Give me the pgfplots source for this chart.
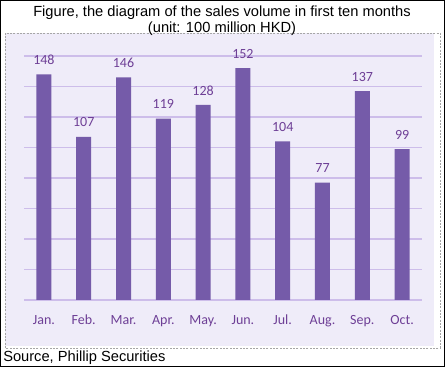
\documentclass[border=0pt]{standalone}
\usepackage{pgfplots}
\pgfplotsset{compat=1.18}
\usepackage{fontspec}
\setmainfont{Liberation Sans}
\newfontfamily\calfont{Carlito}
\newcommand\cl[1]{\mbox{\calfont\fontsize{10.5}{12}\selectfont #1}}
\definecolor{barc}{HTML}{755BA9}
\definecolor{txtc}{HTML}{6E3F96}
\definecolor{gridc}{HTML}{CDBDEA}
\definecolor{bgc}{HTML}{EFECF9}
\begin{document}
\begin{tikzpicture}
\useasboundingbox (0,0) rectangle (333.75pt,275.25pt);
\fill[bgc] (3.75pt,15.75pt) rectangle (325.5pt,250.5pt);
\draw[gray!70, dashed, line width=0.6pt, dash pattern=on 1.5pt off 1pt] (3.75pt,14.25pt) rectangle (330pt,250.5pt);
\begin{axis}[
  at={(18pt,50.25pt)}, anchor=south west,
  scale only axis, width=298.5pt, height=183pt,
  xmin=-0.5, xmax=9.5, ymin=0, ymax=160,
  enlargelimits=false,
  ybar, bar width=11.25pt,
  axis line style={draw=none},
  tick style={draw=none},
  major tick length=0pt,
  ytick={0,20,...,160}, yticklabels={},
  ymajorgrids, grid style={gridc, line width=0.9pt},
  xtick=data,
  xticklabels={\cl{Jan.},\cl{Feb.},\cl{Mar.},\cl{Apr.},\cl{May.},\cl{Jun.},\cl{Jul.},\cl{Aug.},\cl{Sep.},\cl{Oct.}},
  xticklabel style={text=txtc, anchor=center, yshift=-15pt, text height=1.6ex, text depth=0.3ex},
  /pgf/number format/assume math mode=true,
  nodes near coords,
  every node near coord/.append style={font=\calfont\fontsize{10.5}{12}\selectfont, text=txtc, anchor=center, yshift=10.8pt},
]
\addplot[fill=barc, draw=none] coordinates {(0,148) (1,107) (2,146) (3,119) (4,128) (5,152) (6,104) (7,77) (8,137) (9,99)};
\end{axis}
\node[font=\fontsize{11}{12}\selectfont, align=center, inner sep=0pt] at (166.5pt,260pt) {Figure, the diagram of the sales volume in first ten months\\(unit: 100 million HKD)};
\node[font=\fontsize{11}{12}\selectfont, anchor=west, inner sep=0pt] at (2.25pt,6.9pt) {Source, Phillip Securities};
\draw[black, line width=0.75pt] (0.375pt,0.375pt) rectangle (333.375pt,274.875pt);
\end{tikzpicture}
\end{document}
